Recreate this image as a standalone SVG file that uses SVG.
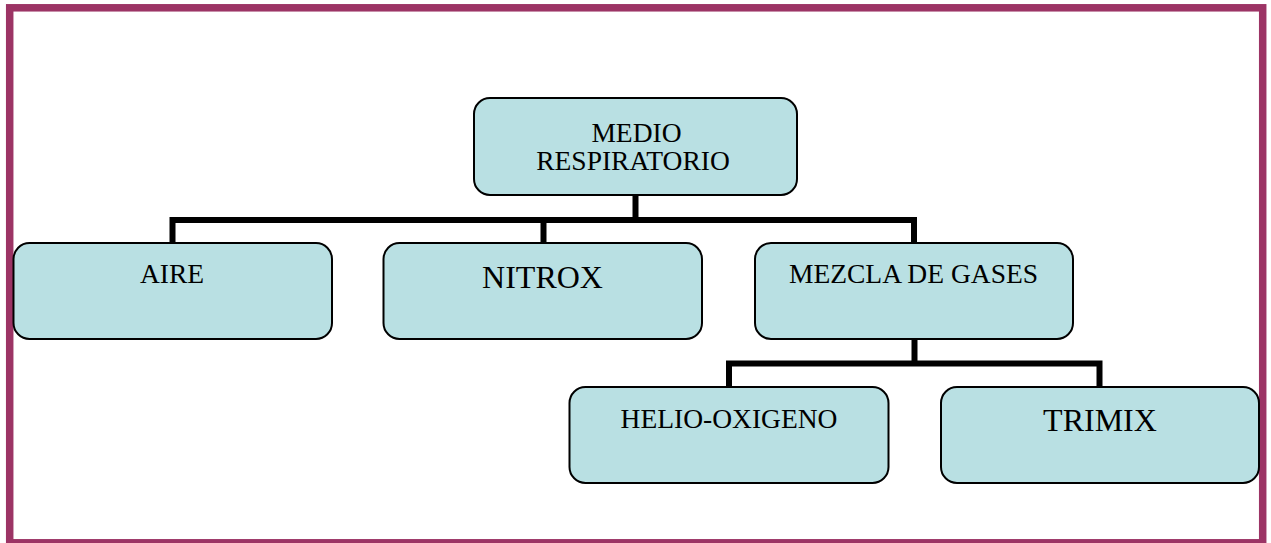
<svg xmlns="http://www.w3.org/2000/svg" width="1271" height="543" viewBox="0 0 1271 543">
<style>
.box{fill:#B9E0E3;stroke:#000;stroke-width:2}
.t{font-family:"Liberation Serif","Times New Roman",serif;fill:#000;text-anchor:middle}
.s{font-size:27.5px}
.l{font-size:32px}
.c{fill:none;stroke:#000;stroke-width:6;stroke-linejoin:miter;stroke-linecap:butt}
</style>
<rect x="0" y="0" width="1271" height="543" fill="#fff"/>
<rect x="9.7" y="7.8" width="1253" height="535" fill="none" stroke="#9C3465" stroke-width="7.5"/>
<g id="connectors">
<path class="c" d="M172.5,243 V220 H914 V243"/>
<path class="c" d="M543.5,243 V220"/>
<path class="c" d="M635.5,195 V220"/>
<path class="c" d="M914.5,339 V363.5"/>
<path class="c" d="M729,387 V363.5 H1099.5 V387"/>
</g>
<g id="medio">
<rect class="box" x="474" y="98" width="323" height="97" rx="16"/>
<text class="t s" x="636.5" y="141.5">MEDIO</text>
<text class="t s" x="633" y="170">RESPIRATORIO</text>
</g>
<g id="aire">
<rect class="box" x="13.5" y="243" width="318.5" height="96" rx="16"/>
<text class="t s" x="172" y="283">AIRE</text>
</g>
<g id="nitrox">
<rect class="box" x="383.5" y="243" width="318.5" height="96" rx="16"/>
<text class="t l" x="542.5" y="288">NITROX</text>
</g>
<g id="mezcla">
<rect class="box" x="755" y="243" width="318" height="96" rx="16"/>
<text class="t s" x="913.5" y="282.5">MEZCLA DE GASES</text>
</g>
<g id="helio">
<rect class="box" x="569.5" y="387" width="319" height="96" rx="16"/>
<text class="t s" x="729" y="427.5">HELIO-OXIGENO</text>
</g>
<g id="trimix">
<rect class="box" x="941" y="387" width="318" height="96" rx="16"/>
<text class="t l" x="1100" y="430.5">TRIMIX</text>
</g>
</svg>
